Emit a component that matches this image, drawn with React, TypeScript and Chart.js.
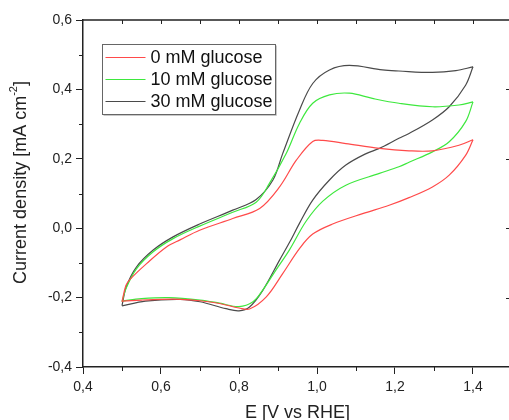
import React, { useEffect, useRef } from "react";
import { Chart, registerables } from "chart.js";

Chart.register(...registerables);

const FONT = "'Liberation Sans', Arial, sans-serif";

const SERIES_LABELS = ["0 mM glucose", "10 mM glucose", "30 mM glucose"];
const SERIES_COLORS = ["#ff4a4a", "#3ee83e", "#4a4a4a"];

const X_TICKS = [0.4, 0.6, 0.8, 1.0, 1.2, 1.4];
const X_MINOR = [0.5, 0.7, 0.9, 1.1, 1.3, 1.5];
const X_TOP = [0.5, 0.6, 0.7, 0.8, 0.9, 1.0, 1.1, 1.2, 1.3, 1.4];
const Y_TICKS = [-0.4, -0.2, 0.0, 0.2, 0.4, 0.6];
const Y_MINOR = [-0.3, -0.1, 0.1, 0.3, 0.5];
const Y_RIGHT = [-0.2, 0.0, 0.2, 0.4];

// 0 mM glucose
const E0_ANODIC = [0.5, 0.51, 0.52, 0.563, 0.614, 0.65, 0.699, 0.784, 0.853, 0.904, 0.947, 0.989, 1.015, 1.074, 1.16, 1.236, 1.296, 1.364, 1.4];
const J0_ANODIC = [-0.212, -0.165, -0.148, -0.102, -0.054, -0.033, -0.006, 0.028, 0.057, 0.119, 0.196, 0.25, 0.253, 0.244, 0.23, 0.223, 0.223, 0.239, 0.255];
const E0_CATHODIC = [0.5, 0.55, 0.6, 0.65, 0.7, 0.75, 0.8, 0.827, 0.87, 0.912, 0.955, 0.989, 1.04, 1.117, 1.185, 1.236, 1.296, 1.339, 1.381, 1.4];
const J0_CATHODIC = [-0.21, -0.207, -0.205, -0.205, -0.209, -0.217, -0.23, -0.233, -0.198, -0.131, -0.059, -0.017, 0.012, 0.042, 0.066, 0.088, 0.119, 0.153, 0.21, 0.255];

// 10 mM glucose
const E10_ANODIC = [0.5, 0.511, 0.537, 0.58, 0.631, 0.699, 0.784, 0.844, 0.878, 0.921, 0.955, 0.989, 1.032, 1.083, 1.142, 1.21, 1.296, 1.364, 1.4];
const J10_ANODIC = [-0.212, -0.172, -0.117, -0.068, -0.03, 0.006, 0.046, 0.075, 0.129, 0.215, 0.302, 0.36, 0.384, 0.389, 0.374, 0.36, 0.35, 0.355, 0.364];
const E10_CATHODIC = [0.5, 0.55, 0.62, 0.7, 0.75, 0.8, 0.836, 0.86, 0.895, 0.929, 0.972, 1.015, 1.074, 1.16, 1.21, 1.236, 1.296, 1.339, 1.381, 1.4];
const J10_CATHODIC = [-0.21, -0.203, -0.2, -0.207, -0.216, -0.226, -0.212, -0.18, -0.12, -0.063, 0.02, 0.078, 0.124, 0.158, 0.177, 0.19, 0.22, 0.249, 0.307, 0.364];

// 30 mM glucose
const E30_ANODIC = [0.5, 0.511, 0.537, 0.58, 0.631, 0.699, 0.784, 0.844, 0.887, 0.912, 0.955, 0.989, 1.032, 1.083, 1.168, 1.21, 1.296, 1.356, 1.4];
const J30_ANODIC = [-0.223, -0.169, -0.112, -0.063, -0.025, 0.012, 0.052, 0.083, 0.139, 0.215, 0.34, 0.417, 0.456, 0.469, 0.456, 0.453, 0.449, 0.454, 0.465];
const E30_CATHODIC = [0.5, 0.56, 0.65, 0.7, 0.767, 0.8, 0.827, 0.861, 0.904, 0.93, 0.955, 0.989, 1.032, 1.074, 1.126, 1.16, 1.21, 1.236, 1.296, 1.339, 1.381, 1.4];
const J30_CATHODIC = [-0.224, -0.21, -0.205, -0.212, -0.232, -0.238, -0.227, -0.179, -0.092, -0.04, 0.014, 0.081, 0.139, 0.182, 0.215, 0.23, 0.259, 0.273, 0.312, 0.35, 0.412, 0.465];

const BRANCHES = [
  [E0_ANODIC, J0_ANODIC, E0_CATHODIC, J0_CATHODIC],
  [E10_ANODIC, J10_ANODIC, E10_CATHODIC, J10_CATHODIC],
  [E30_ANODIC, J30_ANODIC, E30_CATHODIC, J30_CATHODIC],
];

const fmt = (v: number) => v.toFixed(1).replace(".", ",");

const zip = (xs: number[], ys: number[]) => xs.map((x, i) => ({ x, y: ys[i] }));

const framePlugin = {
  id: "frame",
  afterDraw(chart: any) {
    const { ctx, chartArea, scales } = chart;
    const { left, right, top, bottom } = chartArea;
    const x = scales.x;
    const y = scales.y;
    ctx.save();
    ctx.strokeStyle = "#222";
    ctx.lineWidth = 1.5;
    ctx.beginPath();
    ctx.moveTo(left, top);
    ctx.lineTo(right, top);
    ctx.lineTo(right, bottom);
    ctx.stroke();

    ctx.lineWidth = 1;
    ctx.beginPath();
    X_MINOR.forEach((v) => {
      const px = Math.round(x.getPixelForValue(v)) + 0.5;
      ctx.moveTo(px, bottom);
      ctx.lineTo(px, bottom + 4);
    });
    Y_MINOR.forEach((v) => {
      const py = Math.round(y.getPixelForValue(v)) + 0.5;
      ctx.moveTo(left, py);
      ctx.lineTo(left - 4, py);
    });
    X_TOP.forEach((v) => {
      const px = Math.round(x.getPixelForValue(v)) + 0.5;
      ctx.moveTo(px, top);
      ctx.lineTo(px, top + 4);
    });
    Y_RIGHT.forEach((v) => {
      const py = Math.round(y.getPixelForValue(v)) + 0.5;
      ctx.moveTo(right, py);
      ctx.lineTo(right - 6, py);
    });
    ctx.stroke();

    // y axis title with superscript
    ctx.fillStyle = "#222";
    ctx.textBaseline = "middle";
    ctx.textAlign = "left";
    const p1 = "Current density [mA cm";
    const sup = "-2";
    const p2 = "]";
    ctx.font = `18px ${FONT}`;
    const w1 = ctx.measureText(p1).width;
    const w2 = ctx.measureText(p2).width;
    ctx.font = `11px ${FONT}`;
    const ws = ctx.measureText(sup).width;
    const total = w1 + ws + w2;
    ctx.translate(left - 62, (top + bottom) / 2 - 11);
    ctx.rotate(-Math.PI / 2);
    let sx = -total / 2;
    ctx.font = `18px ${FONT}`;
    ctx.fillText(p1, sx, 0);
    sx += w1;
    ctx.font = `11px ${FONT}`;
    ctx.fillText(sup, sx, -7);
    sx += ws;
    ctx.font = `18px ${FONT}`;
    ctx.fillText(p2, sx, 0);
    ctx.restore();

    // legend
    ctx.save();
    const bx = left + 19.5;
    const by = top + 24.5;
    const bw = 173;
    const bh = 70;
    ctx.fillStyle = "#fff";
    ctx.fillRect(bx, by, bw, bh);
    ctx.strokeStyle = "#c8c8c8";
    ctx.lineWidth = 1;
    ctx.beginPath();
    ctx.moveTo(bx + bw + 1, by + 1);
    ctx.lineTo(bx + bw + 1, by + bh + 1);
    ctx.lineTo(bx + 1, by + bh + 1);
    ctx.stroke();
    ctx.strokeStyle = "#666";
    ctx.strokeRect(bx, by, bw, bh);
    ctx.font = `18px ${FONT}`;
    ctx.textBaseline = "middle";
    ctx.textAlign = "left";
    SERIES_LABELS.forEach((label, i) => {
      const ry = by + 13 + i * 22;
      ctx.strokeStyle = SERIES_COLORS[i];
      ctx.lineWidth = 1.2;
      ctx.beginPath();
      ctx.moveTo(bx + 3, ry);
      ctx.lineTo(bx + 43, ry);
      ctx.stroke();
      ctx.fillStyle = "#111";
      ctx.fillText(label, bx + 48, ry + 1);
    });
    ctx.restore();
  },
};

export default function App() {
  const ref = useRef<HTMLCanvasElement | null>(null);

  useEffect(() => {
    document.body.style.margin = "0";
    document.body.style.overflow = "hidden";
    if (!ref.current) return;
    const datasets: any[] = [];
    BRANCHES.forEach((b, i) => {
      [0, 2].forEach((k) => {
        datasets.push({
          label: SERIES_LABELS[i],
          data: zip(b[k], b[k + 1]),
          showLine: true,
          borderColor: SERIES_COLORS[i],
          borderWidth: 1.2,
          pointRadius: 0,
          tension: 0.35,
          fill: false,
        });
      });
    });

    const chart = new Chart(ref.current, {
      type: "scatter",
      data: { datasets },
      options: {
        animation: false,
        responsive: false,
        maintainAspectRatio: false,
        devicePixelRatio: 1,
        layout: { padding: { top: 20, right: 8, left: 0, bottom: 0 } },
        plugins: { legend: { display: false }, tooltip: { enabled: false } },
        scales: {
          x: {
            type: "linear",
            min: 0.4,
            max: 1.5,
            afterBuildTicks: (s: any) => {
              s.ticks = X_TICKS.map((v) => ({ value: v }));
            },
            afterFit: (s: any) => {
              s.height = 63;
            },
            ticks: {
              callback: (v: any) => fmt(Number(v)),
              font: { size: 14, family: FONT },
              color: "#222",
              padding: 5,
              maxRotation: 0,
              autoSkip: false,
            },
            grid: {
              drawOnChartArea: false,
              drawTicks: true,
              tickLength: 7,
              tickColor: "#222",
              tickWidth: 1,
            },
            border: { display: true, color: "#222", width: 1.5 },
            title: {
              display: true,
              text: "E [V vs RHE]",
              font: { size: 18, family: FONT },
              color: "#222",
              padding: { top: 0, bottom: 6 },
            },
          },
          y: {
            type: "linear",
            min: -0.4,
            max: 0.6,
            afterBuildTicks: (s: any) => {
              s.ticks = Y_TICKS.map((v) => ({ value: v }));
            },
            afterFit: (s: any) => {
              s.width = 83;
            },
            ticks: {
              callback: (v: any) => fmt(Number(v)),
              font: { size: 14, family: FONT },
              color: "#222",
              padding: 4,
              autoSkip: false,
            },
            grid: {
              drawOnChartArea: false,
              drawTicks: true,
              tickLength: 7,
              tickColor: "#222",
              tickWidth: 1,
            },
            border: { display: true, color: "#222", width: 1.5 },
            title: { display: false },
          },
        },
      },
      plugins: [framePlugin],
    });
    return () => chart.destroy();
  }, []);

  return (
    <div style={{ position: "fixed", left: 0, top: 0, width: 520, height: 430 }}>
      <canvas ref={ref} width={520} height={430} style={{ width: 520, height: 430, display: "block" }} />
    </div>
  );
}
